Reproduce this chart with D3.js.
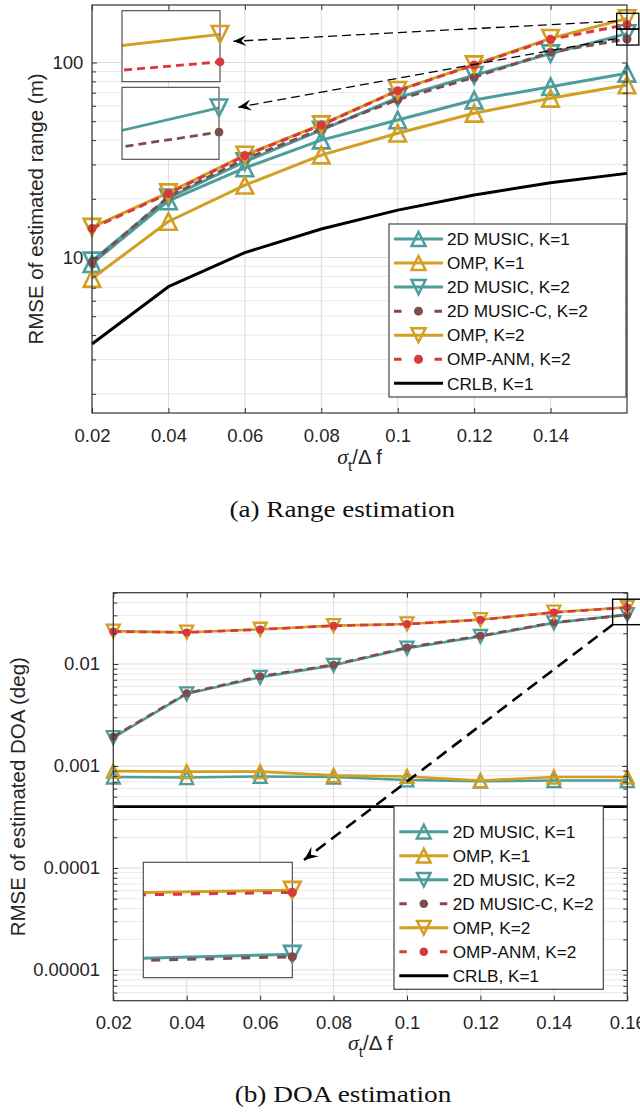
<!DOCTYPE html>
<html><head><meta charset="utf-8">
<script src="https://cdn.jsdelivr.net/npm/d3@7"></script>
<style>body{margin:0;background:#fff;} svg{display:block;font-family:"Liberation Sans",Arial,Helvetica,sans-serif;}</style>
</head><body><svg id="c" width="640" height="1112"></svg>
<script>
// ---------------- data ----------------
const xValues = [0.02, 0.04, 0.06, 0.08, 0.1, 0.12, 0.14, 0.16];
const seriesNames = ["2D MUSIC, K=1", "OMP, K=1", "2D MUSIC, K=2", "2D MUSIC-C, K=2", "OMP, K=2", "OMP-ANM, K=2", "CRLB, K=1"];

// (a) range RMSE (m)
const rangeMusicK1  = [9.3, 19.5, 28.8, 40.0, 50.7, 64.2, 75.1, 88.0];
const rangeOmpK1    = [7.8, 15.3, 23.5, 33.5, 43.4, 54.9, 65.5, 76.7];
const rangeMusicK2  = [9.6, 20.2, 31.0, 45.0, 66.0, 86.0, 111.0, 140.7];
const rangeMusicCK2 = [9.45, 20.5, 32.0, 45.5, 64.5, 84.0, 113.0, 132.0];
const rangeOmpK2    = [14.3, 21.5, 33.5, 48.0, 72.0, 97.5, 133.0, 168.1];
const rangeOmpAnmK2 = [14.1, 21.3, 33.3, 47.8, 71.7, 97.1, 131.5, 156.4];
const rangeCrlbK1   = [3.6, 7.08, 10.6, 14.0, 17.5, 20.9, 24.2, 27.0];

// (b) DOA RMSE (deg)
const doaMusicK1  = [0.00078, 0.00077, 0.00079, 0.00078, 0.00073, 0.00071, 0.00072, 0.00072];
const doaOmpK1    = [0.00089, 0.00088, 0.00088, 0.00081, 0.00079, 0.00072, 0.00078, 0.00078];
const doaMusicK2  = [0.00190, 0.0051, 0.0074, 0.0097, 0.0143, 0.0186, 0.0253, 0.0305];
const doaMusicCK2 = [0.00194, 0.00516, 0.00757, 0.00984, 0.01453, 0.0189, 0.0255, 0.0303];
const doaOmpK2    = [0.0210, 0.0205, 0.0219, 0.0238, 0.0247, 0.0272, 0.0322, 0.0360];
const doaOmpAnmK2 = [0.0208, 0.0204, 0.0218, 0.0237, 0.0246, 0.0271, 0.0320, 0.0358];
const doaCrlbK1   = [0.0004, 0.0004, 0.0004, 0.0004, 0.0004, 0.0004, 0.0004, 0.0004];

// ticks
const xTicksA = [0.02, 0.04, 0.06, 0.08, 0.1, 0.12, 0.14];
const xTickLabelsA = ["0.02", "0.04", "0.06", "0.08", "0.1", "0.12", "0.14"];
const xTicksB = [0.02, 0.04, 0.06, 0.08, 0.1, 0.12, 0.14, 0.16];
const xTickLabelsB = ["0.02", "0.04", "0.06", "0.08", "0.1", "0.12", "0.14", "0.16"];
const yTicksA = [10, 100];
const yTickLabelsA = ["10", "100"];
const yTicksB = [0.00001, 0.0001, 0.001, 0.01];
const yTickLabelsB = ["0.00001", "0.0001", "0.001", "0.01"];

// ---------------- styles ----------------
const TEAL = "#4e9d9d", GOLD = "#d29f22", RED = "#d8393a", BROWN = "#7e4d4d";
const styles = [
  {color: TEAL, marker: "up"},
  {color: GOLD, marker: "up"},
  {color: TEAL, marker: "down"},
  {color: BROWN, marker: "dot", dash: true},
  {color: GOLD, marker: "down"},
  {color: RED, marker: "dot", dash: true},
  {color: "#000", marker: null}
];
const AXIS = "#333333", TXT = "#262626";
const svg = d3.select("#c");

function markerPath(type, h) {
  if (type === "up") return `M0,${-h}L${h},${h}L${-h},${h}Z`;
  if (type === "down") return `M0,${h}L${h},${-h}L${-h},${-h}Z`;
  return null;
}
function drawMarker(g, st, px, py, h, r, lw) {
  if (st.marker === "dot") {
    g.append("circle").attr("cx", px).attr("cy", py).attr("r", r).attr("fill", st.color);
  } else if (st.marker) {
    g.append("path").attr("d", markerPath(st.marker, h)).attr("transform", `translate(${px},${py})`)
      .attr("fill", "none").attr("stroke", st.color).attr("stroke-width", lw).attr("stroke-linejoin", "miter");
  }
}
function minorTicks(dom) {
  const out = [];
  const e0 = Math.floor(Math.log10(dom[0])), e1 = Math.ceil(Math.log10(dom[1]));
  for (let e = e0; e <= e1; e++) for (let k = 2; k <= 9; k++) {
    const v = k * Math.pow(10, e);
    if (v >= dom[0] && v <= dom[1]) out.push(v);
  }
  return out;
}
function majorLogs(dom) {
  const out = [];
  for (let e = Math.ceil(Math.log10(dom[0])); e <= Math.floor(Math.log10(dom[1])); e++) out.push(Math.pow(10, e));
  return out;
}
function arrow(g, x1, y1, x2, y2, lw, dash, L, W) {
  g.append("line").attr("x1", x1).attr("y1", y1).attr("x2", x2).attr("y2", y2)
    .attr("stroke", "#000").attr("stroke-width", lw).attr("stroke-dasharray", dash);
  const ang = Math.atan2(y2 - y1, x2 - x1) * 180 / Math.PI;
  g.append("path").attr("d", `M0,0L${-L},${-W/2}L${-L*0.62},0L${-L},${W/2}Z`)
    .attr("transform", `translate(${x2},${y2}) rotate(${ang})`).attr("fill", "#000");
}

function drawPanel(P) {
  const x = d3.scaleLinear().domain([0.02, 0.16]).range([P.left, P.right]);
  const y = d3.scaleLog().domain(P.yDomain).range([P.bottom, P.top]);
  const g = svg.append("g");
  const W = P.right - P.left, H = P.bottom - P.top;
  // grid
  g.append("g").selectAll("line").data(minorTicks(P.yDomain)).join("line")
    .attr("x1", P.left).attr("x2", P.right).attr("y1", d => y(d)).attr("y2", d => y(d))
    .attr("stroke", "#e9e9e9").attr("stroke-width", 1);
  g.append("g").selectAll("line").data(majorLogs(P.yDomain)).join("line")
    .attr("x1", P.left).attr("x2", P.right).attr("y1", d => y(d)).attr("y2", d => y(d))
    .attr("stroke", "#dddddd").attr("stroke-width", 1);
  g.append("g").selectAll("line").data(P.xTicks).join("line")
    .attr("x1", d => x(d)).attr("x2", d => x(d)).attr("y1", P.top).attr("y2", P.bottom)
    .attr("stroke", "#dddddd").attr("stroke-width", 1);

  // series
  const line = d3.line().x(d => x(d[0])).y(d => y(d[1]));
  P.series.forEach((vals, i) => {
    const st = styles[i];
    const pts = xValues.map((xv, j) => [xv, vals[j]]);
    g.append("path").attr("d", line(pts)).attr("fill", "none").attr("stroke", st.color)
      .attr("stroke-width", P.lw).attr("stroke-dasharray", st.dash ? P.dash : null)
      .attr("stroke-linejoin", "round");
    pts.forEach(p => drawMarker(g, st, x(p[0]), y(p[1]), P.mh, P.dotR, P.mlw));
  });

  // axes
  const fmtX = d => P.xLabels[P.xTicks.indexOf(d)];
  const fmtY = d => P.yLabels[P.yTicks.indexOf(d)];
  const ax = (gen) => gen.tickSizeOuter(0);
  const bx = g.append("g").attr("transform", `translate(0,${P.bottom})`)
    .call(ax(d3.axisBottom(x).tickValues(P.xTicks).tickFormat(fmtX).tickSizeInner(-5).tickPadding(P.xPad)));
  const tx = g.append("g").attr("transform", `translate(0,${P.top})`)
    .call(ax(d3.axisTop(x).tickValues(P.xTicks).tickFormat("").tickSizeInner(-5)));
  const ly = g.append("g").attr("transform", `translate(${P.left},0)`)
    .call(ax(d3.axisLeft(y).tickValues(P.yTicks).tickFormat(fmtY).tickSizeInner(-5).tickPadding(P.yPad)));
  const lym = g.append("g").attr("transform", `translate(${P.left},0)`)
    .call(ax(d3.axisLeft(y).tickValues(minorTicks(P.yDomain)).tickFormat("").tickSizeInner(-4)));
  const ry = g.append("g").attr("transform", `translate(${P.right},0)`)
    .call(ax(d3.axisRight(y).tickValues(P.yTicks).tickFormat("").tickSizeInner(-5)));
  const rym = g.append("g").attr("transform", `translate(${P.right},0)`)
    .call(ax(d3.axisRight(y).tickValues(minorTicks(P.yDomain)).tickFormat("").tickSizeInner(-4)));
  [bx, tx, ly, lym, ry, rym].forEach(a => {
    a.select(".domain").remove();
    a.selectAll(".tick line").attr("stroke", AXIS).attr("stroke-width", 1);
    a.selectAll(".tick text").attr("fill", TXT).attr("font-size", 18.5)
      .attr("font-family", '"Liberation Sans",Arial,sans-serif');
  });
  g.append("rect").attr("x", P.left).attr("y", P.top).attr("width", W).attr("height", H)
    .attr("fill", "none").attr("stroke", AXIS).attr("stroke-width", 1.2);

  // axis titles
  g.append("text").attr("transform", `translate(${P.yTitleX},${(P.top + P.bottom) / 2}) rotate(-90)`)
    .attr("text-anchor", "middle").attr("font-size", 20.5).attr("fill", TXT).text(P.yTitle);
  const xt = g.append("text").attr("x", (P.left + P.right) / 2).attr("y", P.xTitleY)
    .attr("text-anchor", "middle").attr("font-size", 20.5).attr("fill", TXT);
  xt.append("tspan").attr("font-family", '"Liberation Serif","Times New Roman",serif').attr("font-style", "italic").attr("font-size", 22).text("σ");
  xt.append("tspan").attr("font-size", 15).attr("dy", 7).text("t");
  xt.append("tspan").attr("dy", -7).text("/Δ f");

  // caption
  svg.append("text").attr("x", P.capX).attr("y", P.capY).attr("text-anchor", "middle")
    .attr("font-family", '"Liberation Serif","Times New Roman",serif').attr("font-size", 23)
    .attr("textLength", P.capW).attr("lengthAdjust", "spacingAndGlyphs").attr("fill", "#111").text(P.caption);

  return {x, y, g};
}

function drawInset(I, P) {
  const x = d3.scaleLinear().domain(I.xDom).range([I.x0, I.x1]);
  const y = d3.scaleLog().domain(I.yDom).range([I.y1, I.y0]);
  const g = svg.append("g");
  const id = "clip" + Math.round(I.x0) + "_" + Math.round(I.y0);
  g.append("clipPath").attr("id", id).append("rect")
    .attr("x", I.x0).attr("y", I.y0).attr("width", I.x1 - I.x0).attr("height", I.y1 - I.y0);
  g.append("rect").attr("x", I.x0).attr("y", I.y0).attr("width", I.x1 - I.x0).attr("height", I.y1 - I.y0)
    .attr("fill", "#fff");
  const line = d3.line().x(d => x(d[0])).y(d => y(d[1]));
  const lines = g.append("g").attr("clip-path", `url(#${id})`);
  I.idx.forEach(i => {
    const st = styles[i];
    const pts = xValues.map((xv, j) => [xv, P.series[i][j]]);
    lines.append("path").attr("d", line(pts)).attr("fill", "none").attr("stroke", st.color)
      .attr("stroke-width", I.lw).attr("stroke-dasharray", st.dash ? I.dash : null);
  });
  g.append("rect").attr("x", I.x0).attr("y", I.y0).attr("width", I.x1 - I.x0).attr("height", I.y1 - I.y0)
    .attr("fill", "none").attr("stroke", "#444").attr("stroke-width", 1.1);
  I.idx.forEach(i => {
    const st = styles[i];
    xValues.forEach((xv, j) => {
      if (xv >= I.xDom[0] && xv <= I.xDom[1]) drawMarker(g, st, x(xv), y(P.series[i][j]), I.mh, I.dotR, I.mlw);
    });
  });
}

function drawLegend(L) {
  const g = svg.append("g");
  g.append("rect").attr("x", L.x0).attr("y", L.y0).attr("width", L.x1 - L.x0).attr("height", L.y1 - L.y0)
    .attr("fill", "#fff").attr("stroke", AXIS).attr("stroke-width", 1.1);
  seriesNames.forEach((name, i) => {
    const st = styles[i];
    const cy = L.row0 + i * L.step;
    g.append("line").attr("x1", L.lx0).attr("x2", L.lx1).attr("y1", cy).attr("y2", cy)
      .attr("stroke", st.color).attr("stroke-width", L.lw)
      .attr("stroke-dasharray", st.dash ? L.dash : null);
    drawMarker(g, st, (L.lx0 + L.lx1) / 2, cy, L.mh, L.dotR, L.mlw);
    g.append("text").attr("x", L.tx).attr("y", cy + 6.2).attr("font-size", 17.2).attr("fill", "#111").text(name);
  });
}

// ---------------- panel (a) ----------------
const PA = {
  left: 92, right: 627, top: 5, bottom: 413, yDomain: [1.594, 197.2],
  xTicks: xTicksA, xLabels: xTickLabelsA, yTicks: yTicksA, yLabels: yTickLabelsA,
  xPad: 16.2, yPad: 8.7, lw: 3, mh: 8.3, mlw: 2.6, dotR: 4.5, dash: "8,5",
  series: [rangeMusicK1, rangeOmpK1, rangeMusicK2, rangeMusicCK2, rangeOmpK2, rangeOmpAnmK2, rangeCrlbK1],
  yTitle: "RMSE of estimated range (m)", yTitleX: 42.5, xTitleY: 464,
  caption: "(a) Range estimation", capX: 342.3, capY: 517, capW: 225.5
};
const A = drawPanel(PA);
// zoom boxes (a)
const boxAx = [0.1573, 0.1631];
const boxAupper = [148.5, 178.8], boxAlower = [122.9, 148.5];
[boxAupper, boxAlower].forEach(b => {
  A.g.append("rect").attr("x", A.x(boxAx[0])).attr("y", A.y(b[1]))
    .attr("width", A.x(boxAx[1]) - A.x(boxAx[0])).attr("height", A.y(b[0]) - A.y(b[1]))
    .attr("fill", "none").attr("stroke", "#000").attr("stroke-width", 1.3);
});
drawInset({x0: 122, x1: 220, y0: 10.7, y1: 81.7, xDom: [0.1575, 0.16], yDom: boxAupper, idx: [4, 5],
  lw: 2.8, dash: "8,5", mh: 8.3, mlw: 2.6, dotR: 4.4}, PA);
drawInset({x0: 122, x1: 219, y0: 87.3, y1: 159.3, xDom: [0.155, 0.16], yDom: boxAlower, idx: [2, 3],
  lw: 2.8, dash: "8,5", mh: 8.3, mlw: 2.6, dotR: 4.4}, PA);
const annA = svg.append("g");
arrow(annA, A.x(boxAx[0]), (A.y(boxAupper[0]) + A.y(boxAupper[1])) / 2, 233.3, 41.3, 1.3, "9,5", 13, 11);
arrow(annA, A.x(boxAx[0]), (A.y(boxAlower[0]) + A.y(boxAlower[1])) / 2 + 1.5, 238.3, 107.3, 1.3, "9,5", 13, 11);
drawLegend({x0: 389, x1: 626, y0: 224, y1: 397, row0: 239, step: 24.05, lx0: 394, lx1: 443, tx: 447,
  lw: 3, dash: "7.5,33", mh: 7, mlw: 2.5, dotR: 4.5});

// ---------------- panel (b) ----------------
const PB = {
  left: 113.3, right: 627.3, top: 592.7, bottom: 1000.7, yDomain: [5e-6, 0.05],
  xTicks: xTicksB, xLabels: xTickLabelsB, yTicks: yTicksB, yLabels: yTickLabelsB,
  xPad: 15.5, yPad: 13.3, lw: 2.6, mh: 6.5, mlw: 2.3, dotR: 4, dash: "8,5",
  series: [doaMusicK1, doaOmpK1, doaMusicK2, doaMusicCK2, doaOmpK2, doaOmpAnmK2, doaCrlbK1],
  yTitle: "RMSE of estimated DOA (deg)", yTitleX: 25, xTitleY: 1050,
  caption: "(b) DOA estimation", capX: 343, capY: 1102, capW: 216.7
};
const B = drawPanel(PB);
const boxBx = [0.156, 0.1645], boxBy = [0.0243, 0.0432];
B.g.append("rect").attr("x", B.x(boxBx[0])).attr("y", B.y(boxBy[1]))
  .attr("width", B.x(boxBx[1]) - B.x(boxBx[0])).attr("height", B.y(boxBy[0]) - B.y(boxBy[1]))
  .attr("fill", "none").attr("stroke", "#000").attr("stroke-width", 1.4);
drawInset({x0: 143.3, x1: 292.3, y0: 862.3, y1: 977.7, xDom: [0.1589, 0.16], yDom: [0.0287, 0.0387], idx: [2, 3, 4, 5],
  lw: 3, dash: "9,9", mh: 8.3, mlw: 2.6, dotR: 4.6}, PB);
const annB = svg.append("g");
arrow(annB, B.x(boxBx[0]), B.y(boxBy[0]), 304, 860, 2.6, "12,7", 14, 12);
drawLegend({x0: 394, x1: 603.3, y0: 806, y1: 989.3, row0: 831.7, step: 24, lx0: 399.3, lx1: 448.3, tx: 452.7,
  lw: 3, dash: "7.5,33", mh: 6.8, mlw: 2.5, dotR: 4.3});
</script></body></html>
